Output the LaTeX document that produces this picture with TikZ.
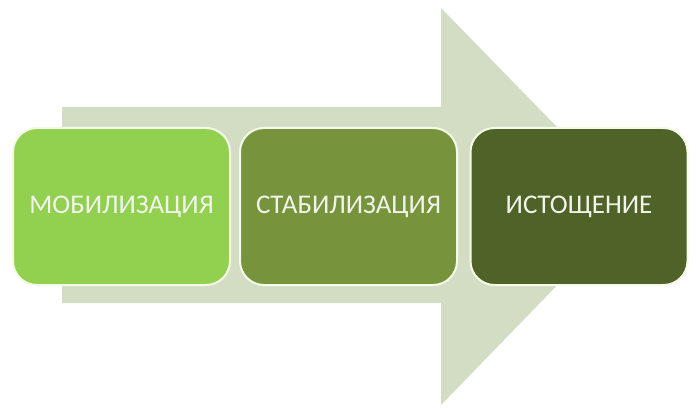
\documentclass[tikz,border=0pt]{standalone}
\usepackage{fontspec}
\setmainfont{Carlito}
\definecolor{arrowc}{RGB}{211,221,196}
\definecolor{boxa}{RGB}{146,208,80}
\definecolor{boxb}{RGB}{119,147,60}
\definecolor{boxc}{RGB}{79,98,40}
\definecolor{rimc}{RGB}{245,250,232}
\definecolor{txtc}{RGB}{242,244,236}
\tikzset{
  stagebox/.style={draw=rimc, line width=2pt, rounded corners=24pt,
    minimum width=217pt, minimum height=157pt, inner sep=0pt,
    text=txtc, font=\fontsize{27}{32}\selectfont, anchor=center},
}
\begin{document}
\begin{tikzpicture}[x=1pt,y=-1pt]
\useasboundingbox (0,0) rectangle (700,411);
\fill[arrowc] (62,107) -- (441,107) -- (441,8) -- (634,206) -- (441,405) -- (441,303) -- (62,303) -- cycle;
\node[stagebox, fill=boxa] (s1) at (121.5,206.5) {МОБИЛИЗАЦИЯ};
\node[stagebox, fill=boxb] (s2) at (348.5,206.5) {СТАБИЛИЗАЦИЯ};
\node[stagebox, fill=boxc] (s3) at (579,206.5) {ИСТОЩЕНИЕ};
\end{tikzpicture}
\end{document}
